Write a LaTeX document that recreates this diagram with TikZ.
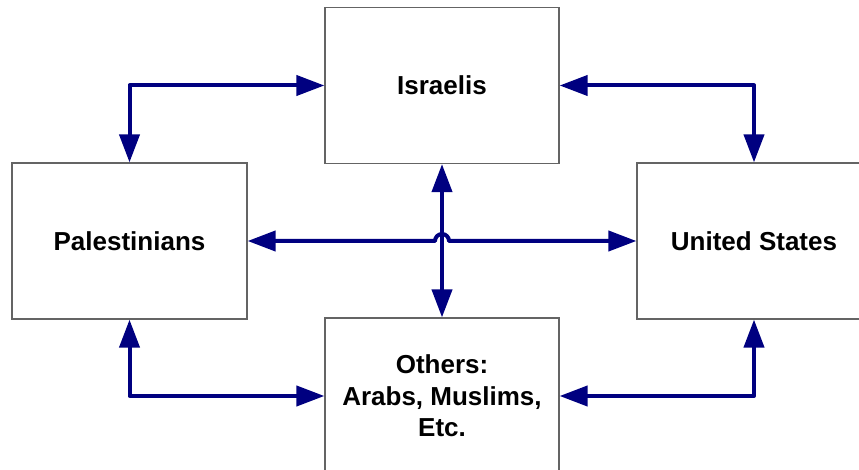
\documentclass[tikz,border=0pt]{standalone}
\usepackage{fontspec}
\setmainfont{Liberation Sans}
\usetikzlibrary{arrows.meta,calc}
\definecolor{arrowblue}{RGB}{0,0,128}
\definecolor{boxgray}{RGB}{100,100,100}
\tikzset{
  party/.style={draw=boxgray, line width=1.2pt, fill=white, minimum width=234pt,
    minimum height=156pt, inner sep=0pt, align=center,
    font=\fontsize{26}{31.5}\selectfont\bfseries},
  link/.style={draw=arrowblue, line width=4pt, line join=round,
    {Triangle[length=28pt,width=20pt]}-{Triangle[length=28pt,width=20pt]}}
}
\begin{document}
\begin{tikzpicture}[x=1pt,y=-1pt]
  \useasboundingbox (0,0) rectangle (859,470);
  \begin{scope}
    \clip (0,0) rectangle (859,470);
    \node[party] (isr) at (442,85.5) {Israelis};
    \node[party, minimum width=235pt] (pal) at (129.5,241) {Palestinians};
    \node[party] (usa) at (754,241) {United States};
    \node[party] (oth) at (442,396) {Others:\\Arabs, Muslims,\\Etc.};
  \end{scope}
  \draw[link] (isr.west) -| (pal.north);
  \draw[link] (isr.east) -| (usa.north);
  \draw[link] (oth.west) -| (pal.south);
  \draw[link] (oth.east) -| (usa.south);
  \draw[link] (isr.south) -- (oth.north);
  \draw[link] (pal.east) -- ($(pal.east -| isr.south)+(-7pt,0)$)
    arc[start angle=180, end angle=0, radius=7pt] -- (usa.west);
\end{tikzpicture}
\end{document}
